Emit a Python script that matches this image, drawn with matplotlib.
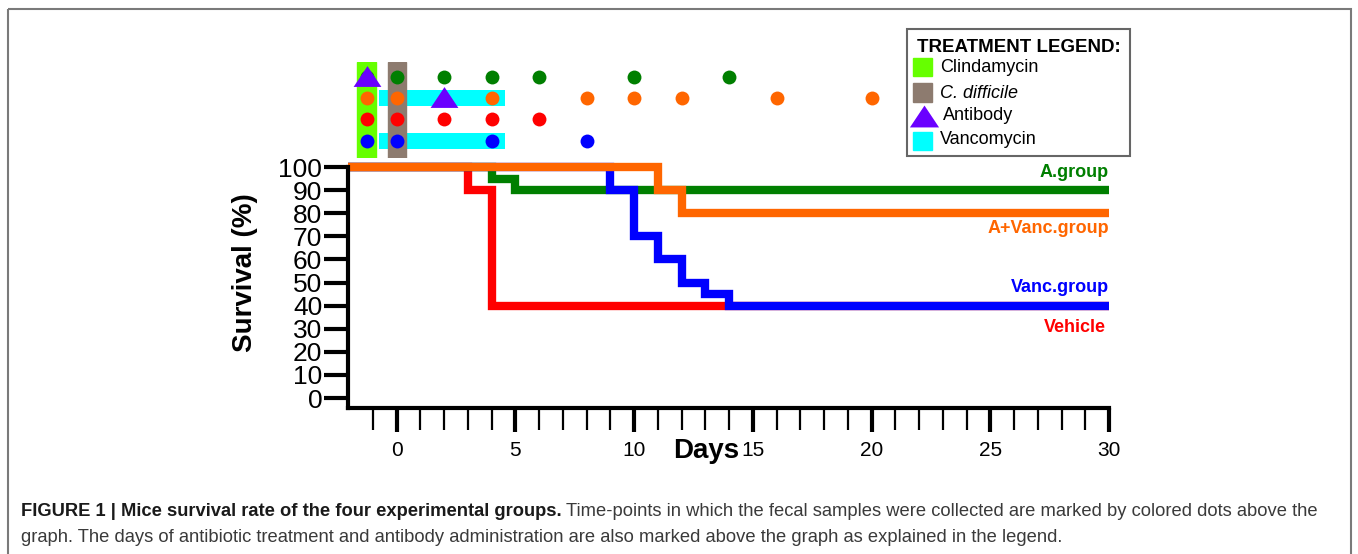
import numpy as np
import matplotlib
matplotlib.use('Agg')
import matplotlib.pyplot as plt
from matplotlib.patches import Rectangle
from matplotlib.ticker import MultipleLocator, FixedLocator

plt.rcParams['font.family'] = ['Liberation Sans', 'DejaVu Sans']

# survival curves: day of each step and survival (%) after it
vehicle_days = [-2.05, 3, 4, 30]
vehicle_surv = [100, 90, 40, 40]
agroup_days = [-2.05, 4, 5, 30]
agroup_surv = [100, 95, 90, 90]
vanc_days = [-2.05, 9, 10, 11, 12, 13, 14, 30]
vanc_surv = [100, 90, 70, 60, 50, 45, 40, 40]
avanc_days = [-2.05, 11, 12, 30]
avanc_surv = [100, 90, 80, 80]

# fecal sampling days (dots above the graph)
samp_agroup = [-1.25, 0, 2, 4, 6, 10, 14]
samp_avanc = [-1.25, 0, 4, 8, 10, 12, 16, 20]
samp_vehicle = [-1.25, 0, 2, 4, 6]
samp_vanc = [-1.25, 0, 4, 8]

# treatments
clinda_day = -1.25
cdiff_day = 0
antibody_agroup_day = -1.25
antibody_avanc_day = 2
vanc_start, vanc_end = -0.75, 4.55

C_GREEN = '#007f00'
C_ORANGE = '#ff6600'
C_RED = '#ff0000'
C_BLUE = '#0000ff'
C_CLINDA = '#66ff00'
C_CDIFF = '#8d7b6f'
C_AB = '#6a00ff'
C_VANC = '#00ffff'

W, H = 1358, 554
fig = plt.figure(figsize=(W / 100, H / 100), dpi=100)

# main survival plot
ax = fig.add_axes([348 / W, 1 - 408 / H, (1109 - 348) / W, (408 - 167) / H])
ax.set_xlim(-2.05, 30)
ax.set_ylim(-4.3, 100)
for d, s, c in [(vehicle_days, vehicle_surv, C_RED),
                (agroup_days, agroup_surv, C_GREEN),
                (vanc_days, vanc_surv, C_BLUE),
                (avanc_days, avanc_surv, C_ORANGE)]:
    ax.step(d, s, where='post', color=c, lw=6, clip_on=False,
            solid_capstyle='butt', solid_joinstyle='miter')

for sp in ['top', 'right']:
    ax.spines[sp].set_visible(False)
for sp in ['left', 'bottom']:
    ax.spines[sp].set_linewidth(3)

ax.xaxis.set_major_locator(MultipleLocator(5))
ax.xaxis.set_minor_locator(FixedLocator([d for d in range(-1, 30) if d % 5 != 0]))
ax.yaxis.set_major_locator(MultipleLocator(10))
ax.tick_params(axis='x', which='major', length=17, width=3, labelsize=15, pad=7)
ax.tick_params(axis='x', which='minor', length=16, width=1.6)
ax.tick_params(axis='y', which='major', length=17, width=3, labelsize=19, pad=1.5)

ax.text(30, 97.8, 'A.group', color=C_GREEN, ha='right', va='center',
        fontsize=13, fontweight='bold')
ax.text(30, 73.6, 'A+Vanc.group', color=C_ORANGE, ha='right', va='center',
        fontsize=13, fontweight='bold')
ax.text(30, 48, 'Vanc.group', color=C_BLUE, ha='right', va='center',
        fontsize=13, fontweight='bold')
ax.text(29.85, 30.7, 'Vehicle', color=C_RED, ha='right', va='center',
        fontsize=13, fontweight='bold')

# treatment / sampling panel above the graph
axt = fig.add_axes([348 / W, 1 - 158 / H, (1109 - 348) / W, (158 - 62) / H])
axt.set_xlim(-2.05, 30)
axt.set_ylim(4.82, 0.29)
axt.axis('off')
for row in [2, 4]:
    axt.barh(row, vanc_end - vanc_start, left=vanc_start, height=0.75,
             color=C_VANC, zorder=1)
axt.axvspan(clinda_day - 0.4, clinda_day + 0.4, color=C_CLINDA, zorder=2)
axt.axvspan(cdiff_day - 0.38, cdiff_day + 0.38, color=C_CDIFF, zorder=2)
for row, days, c in [(1, samp_agroup, C_GREEN), (2, samp_avanc, C_ORANGE),
                     (3, samp_vehicle, C_RED), (4, samp_vanc, C_BLUE)]:
    axt.plot(days, [row] * len(days), 'o', color=c, ms=10, mew=0, zorder=3)
tri = [(-1, -0.75), (1, -0.75), (0, 0.75)]
axt.plot([antibody_agroup_day, antibody_avanc_day], [0.95, 1.95], linestyle='none',
         marker=tri, ms=20, color=C_AB, mew=0, zorder=4)

# overlay in pixel units: frame, axis titles, legend, caption
ov = fig.add_axes([0, 0, 1, 1])
ov.set_xlim(0, W)
ov.set_ylim(H, 0)
ov.axis('off')
ov.add_patch(Rectangle((7.5, 8.5), 1351 - 7.5, 600, fill=False, ec='#7a7a7a', lw=1.5))

ov.text(245, 273, 'Survival (%)', rotation=90, ha='center', va='center',
        fontsize=20, fontweight='bold')
ov.text(706, 451, 'Days', ha='center', va='center', fontsize=20, fontweight='bold')

# treatment legend
ov.add_patch(Rectangle((907, 29), 1130 - 907, 156 - 29, fill=False, ec='#666666', lw=1.5))
ov.text(1019, 47, 'TREATMENT LEGEND:', ha='center', va='center',
        fontsize=13.5, fontweight='bold')
ov.add_patch(Rectangle((913, 58), 19, 18, color=C_CLINDA))
ov.add_patch(Rectangle((913, 83), 19, 19, color=C_CDIFF))
ov.plot([923.5], [116], linestyle='none', marker=tri, ms=21, color=C_AB, mew=0)
ov.add_patch(Rectangle((913, 132), 19, 18, color=C_VANC))
ov.text(940, 68, 'Clindamycin', va='center', fontsize=13)
ov.text(940, 93, 'C. difficile', va='center', fontsize=13, style='italic')
ov.text(943, 115, 'Antibody', va='center', fontsize=13)
ov.text(940, 139, 'Vancomycin', va='center', fontsize=13)

# caption
cap_size = 13.25
t1 = ov.text(21, 511, 'FIGURE 1 | Mice survival rate of the four experimental groups.',
             va='center', fontsize=cap_size, fontweight='bold', color='#1a1a1a')
fig.canvas.draw()
bb = t1.get_window_extent(fig.canvas.get_renderer())
x2 = bb.x1 / fig.dpi * 100 + 4
ov.text(x2, 511, 'Time-points in which the fecal samples were collected are marked by '
        'colored dots above the', va='center', fontsize=cap_size, color='#3a3a3a')
ov.text(21, 537, 'graph. The days of antibiotic treatment and antibody administration '
        'are also marked above the graph as explained in the legend.',
        va='center', fontsize=cap_size, color='#3a3a3a')

fig.savefig('out.png', dpi=100)
